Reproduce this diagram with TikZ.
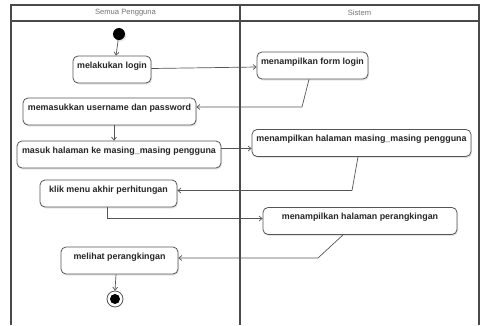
\documentclass[tikz,border=0pt]{standalone}
\usepackage{fontspec}
\setmainfont{Liberation Sans}
\usetikzlibrary{arrows.meta,shadows}
\definecolor{lineg}{HTML}{555555}
\definecolor{frameg}{HTML}{4A4A4A}
\begin{document}
\begin{tikzpicture}[x=1pt,y=-1pt,
  actbox/.style={draw=lineg, line width=0.8pt, rounded corners=5pt, fill=white,
    drop shadow={opacity=0.2, shadow xshift=1pt, shadow yshift=-1.5pt},
    inner xsep=0pt, inner ysep=0pt, text height=12pt, text depth=15pt,
    font=\fontsize{8.9}{10}\selectfont\bfseries, text=black!85},
  flow/.style={draw=lineg, line width=0.7pt, -{Straight Barb[length=3pt,width=5pt]}},
  lanehead/.style={font=\fontsize{7.6}{9}\selectfont, text=black!55},
  lane/.style={draw=frameg, line width=1.2pt}]
\useasboundingbox (0,0) rectangle (480,325);
\fill[white] (0,0) rectangle (480,325);
% swimlanes
\draw[lane] (11,325) -- (11,5) -- (479,5) -- (479,325);
\draw[lane] (11,21) -- (479,21);
\draw[lane] (240,5) -- (240,325);
\node[lanehead] (h1) at (125.5,13) {Semua Pengguna};
\node[lanehead] (h2) at (359.5,13) {Sistem};
% start / end
\node[circle, fill=black, minimum size=12pt, inner sep=0pt,
  drop shadow={opacity=0.2, shadow xshift=1pt, shadow yshift=-1.5pt}] (start) at (119,34) {};
\node[circle, draw=lineg, line width=0.8pt, fill=white, minimum size=16pt, inner sep=0pt] (final) at (115,299) {};
\node[circle, fill=black, minimum size=10pt, inner sep=0pt] (finalin) at (115,299) {};
% activities
\node[actbox, minimum width=78pt] (login) at (112,69.5) {melakukan login};
\node[actbox, minimum width=111pt] (form) at (312.5,65.5) {menampilkan form login};
\node[actbox, minimum width=173pt] (input) at (109.5,111.5) {memasukkan username dan password};
\node[actbox, minimum width=204pt] (masuk) at (119,154.5) {masuk halaman ke masing\_masing pengguna};
\node[actbox, minimum width=219pt] (tampil) at (361.5,143) {menampilkan halaman masing\_masing pengguna};
\node[actbox, minimum width=137pt] (klik) at (108.5,193.5) {klik menu akhir perhitungan};
\node[actbox, minimum width=194pt] (rank) at (360,221) {menampilkan halaman perangkingan};
\node[actbox, minimum width=117pt] (lihat) at (119.5,260.5) {melihat perangkingan};
% bend points
\coordinate (c1) at (302,107);
\coordinate (c2) at (352,190.5);
\coordinate (c3) at (107,218.5);
\coordinate (c4) at (318,258);
% connectors
\draw[flow] (start) -- (login.north -| 116,0);
\draw[flow] (login.east |- 0,68.5) -- (form.west |- 0,67);
\draw[flow] (form.south -| 309,0) -- (c1) -- (c1 -| input.east);
\draw[flow] (input.south -| 114,0) -- (masuk.north -| 114,0);
\draw[flow] (masuk.east |- 0,148.5) -- (tampil.west |- 0,148.5);
\draw[flow] (tampil.south -| 358,0) -- (c2) -- (c2 -| klik.east);
\draw[flow] (klik.south -| c3) -- (c3) -- (c3 -| rank.west);
\draw[flow] (rank.south -| 343,0) -- (c4) -- (c4 -| lihat.east);
\draw[flow] (lihat.south -| 116,0) -- (final.north);
\end{tikzpicture}
\end{document}
